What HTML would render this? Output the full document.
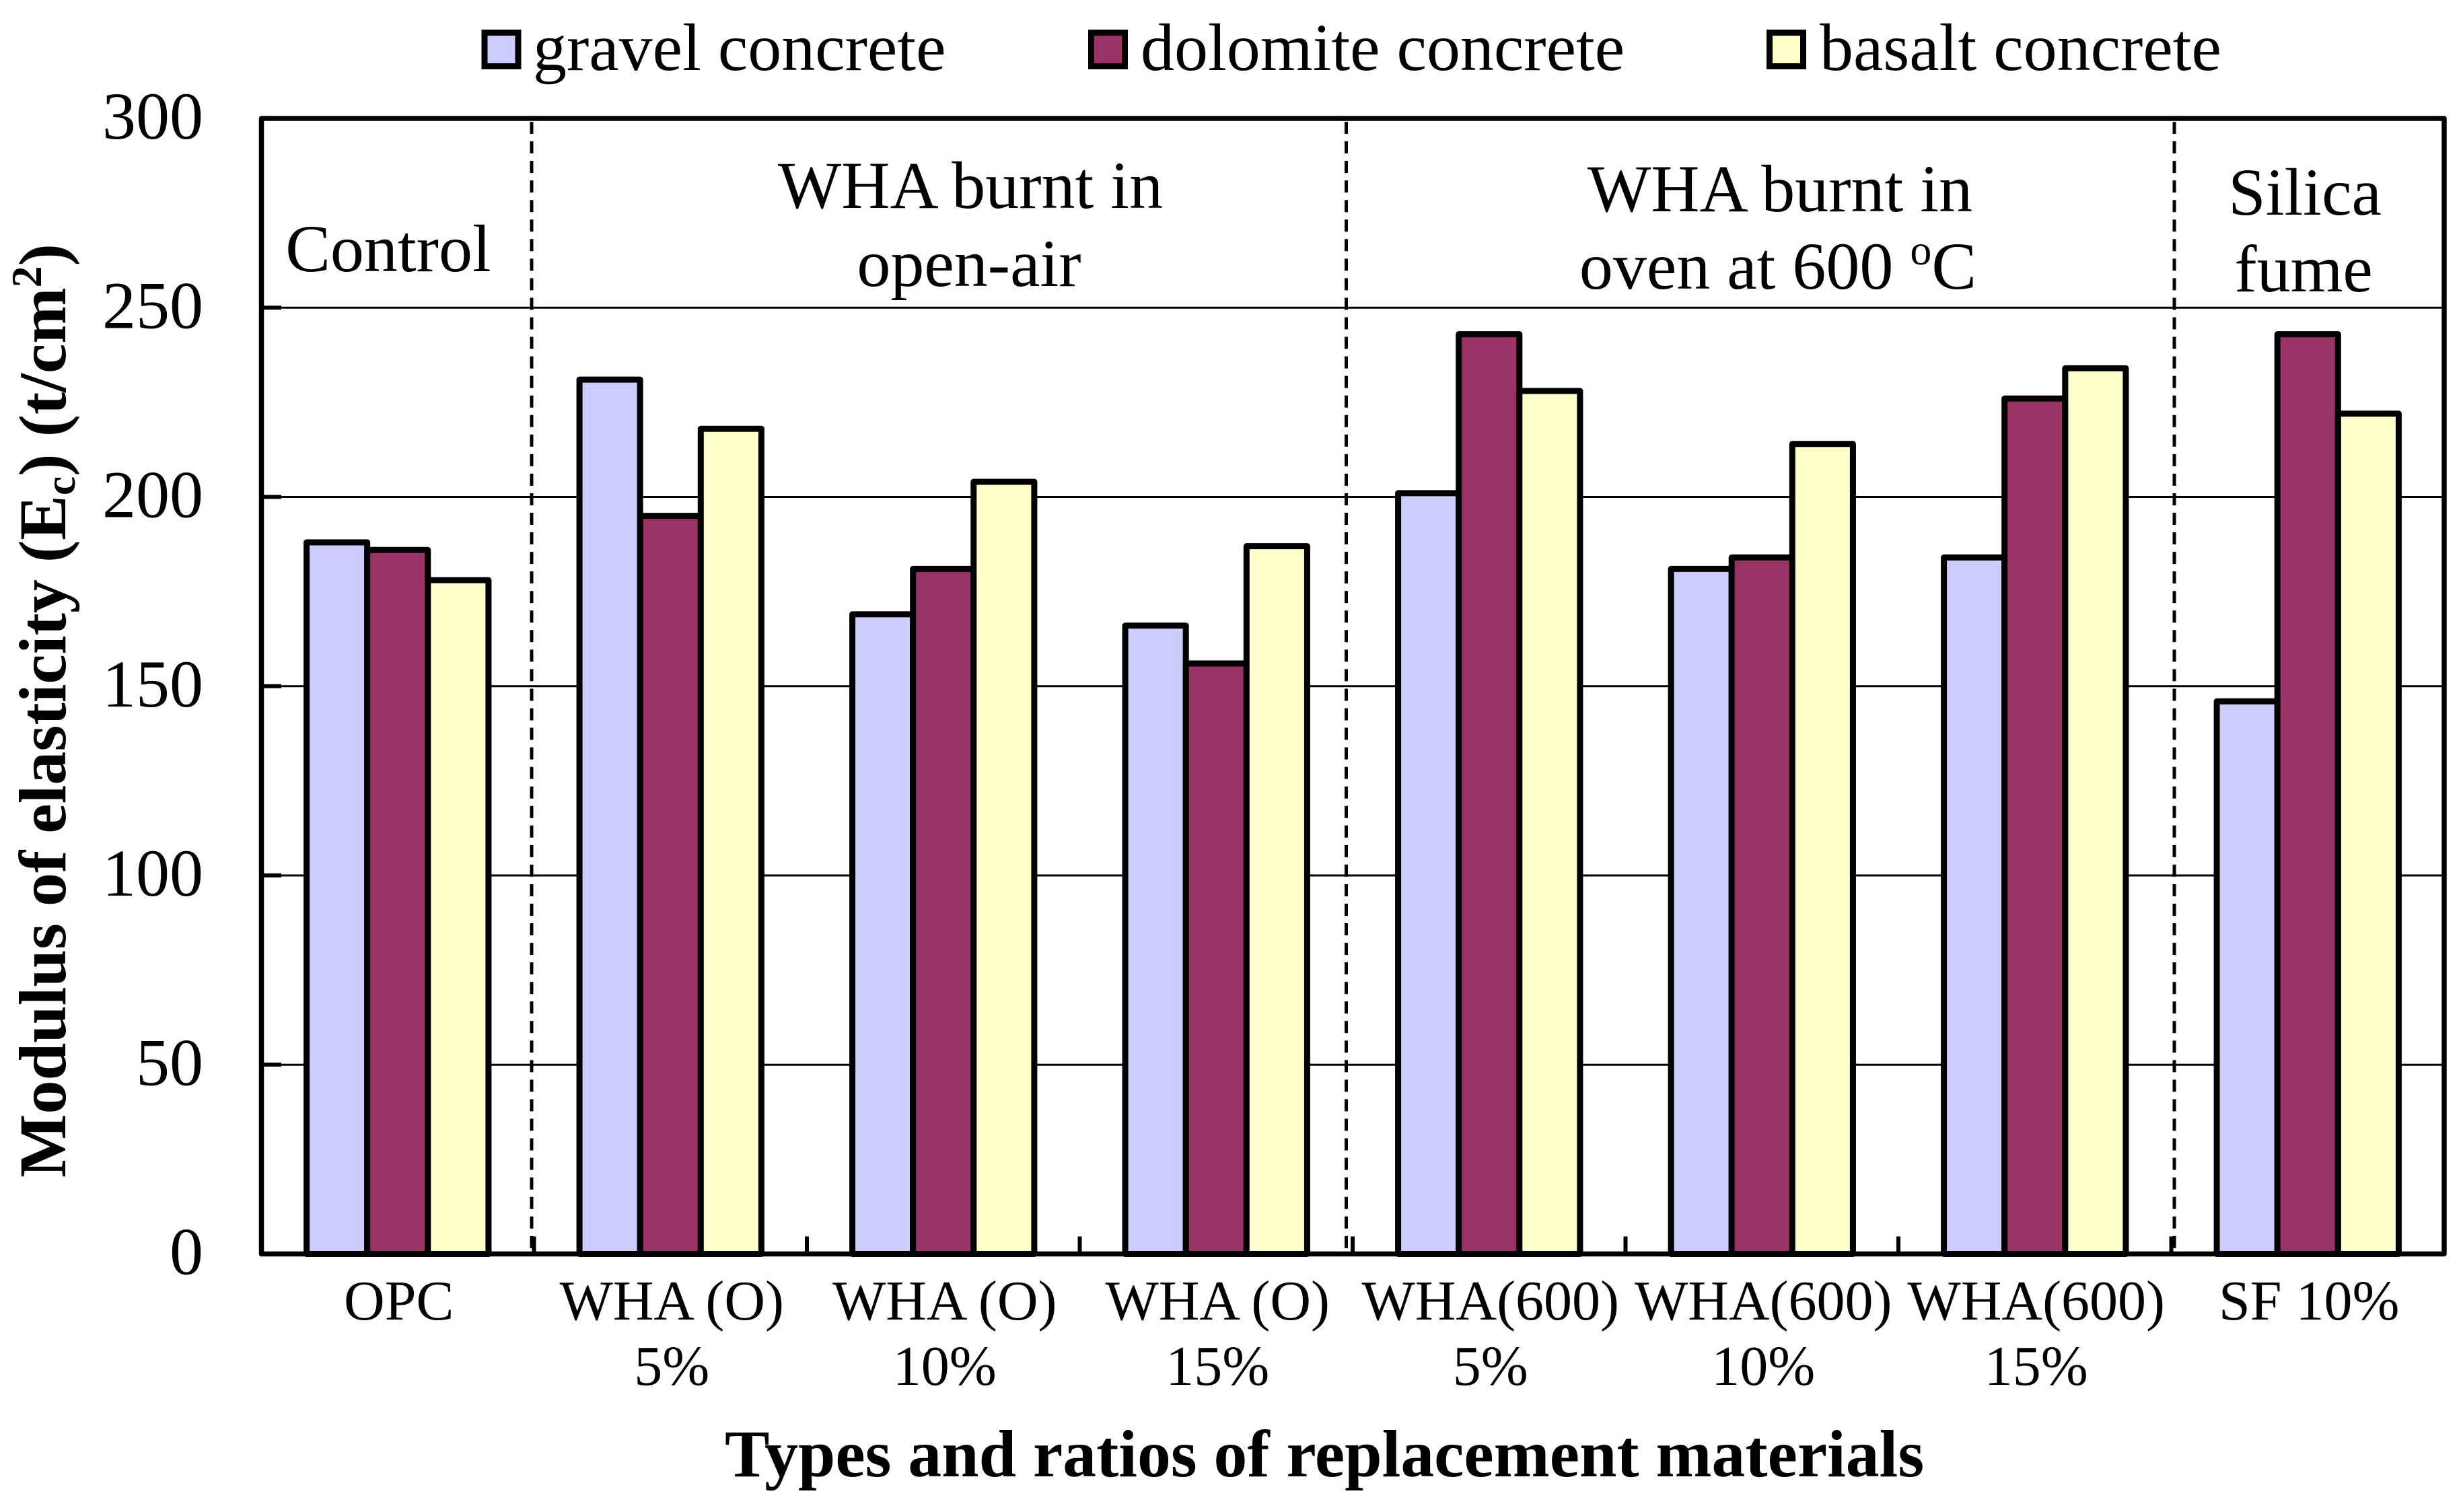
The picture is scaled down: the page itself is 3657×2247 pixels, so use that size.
<!DOCTYPE html>
<html lang="en">
<head>
<meta charset="utf-8">
<title>Modulus of elasticity chart</title>
<style>
html,body{margin:0;padding:0;background:#fff;width:3657px;height:2247px;overflow:hidden}
svg{display:block}
text{font-family:"Liberation Serif","Times New Roman",serif;fill:#000}
</style>
</head>
<body>
<svg id="chart" xmlns="http://www.w3.org/2000/svg" width="3657" height="2247" viewBox="0 0 3657 2247">
  <rect x="0" y="0" width="3657" height="2247" fill="#fff"/>
  <g id="grid"></g>
  <g id="dividers">
    <line x1="790" x2="790" y1="181" y2="1860" stroke="#000" stroke-width="5" stroke-dasharray="18 11.05"/>
    <line x1="2000.5" x2="2000.5" y1="181" y2="1860" stroke="#000" stroke-width="5" stroke-dasharray="18 11.05"/>
    <line x1="3231" x2="3231" y1="181" y2="1860" stroke="#000" stroke-width="5" stroke-dasharray="18 11.05"/>
  </g>
  <g id="ticks"></g>
  <g id="bars"></g>
  <rect x="388.5" y="176" width="3243.5" height="1687.5" fill="none" stroke="#000" stroke-width="7.5" stroke-linejoin="round"/>
  <g id="baseline-bars"></g>
  <g id="ytick-labels" font-size="100" text-anchor="end"></g>
  <g id="xtick-labels" font-size="84" text-anchor="middle"></g>

  <g font-size="100">
    <rect x="720" y="48.5" width="50" height="50" fill="#CCCCFF" stroke="#000" stroke-width="9"/>
    <text x="792" y="104">gravel concrete</text>
    <rect x="1621.5" y="48.5" width="50" height="50" fill="#993366" stroke="#000" stroke-width="9"/>
    <text x="1695" y="104">dolomite concrete</text>
    <rect x="2629.5" y="48.5" width="50" height="50" fill="#FFFFCC" stroke="#000" stroke-width="9"/>
    <text x="2704" y="104">basalt concrete</text>
  </g>

  <g font-size="100" text-anchor="middle">
    <text x="577" y="403">Control</text>
    <text x="1442" y="309">WHA burnt in</text>
    <text x="1440" y="425">open-air</text>
    <text x="2645" y="314">WHA burnt in</text>
    <text x="2642" y="429">oven at 600 <tspan font-size="64" dy="-36">o</tspan><tspan dy="36">C</tspan></text>
    <text x="3425" y="319">Silica</text>
    <text x="3423" y="433">fume</text>
  </g>

  <text transform="translate(97 1750) rotate(-90)" font-size="100" font-weight="700">Modulus of elasticity (E<tspan font-size="64" dy="14">c</tspan><tspan dy="-14">) (t/cm</tspan><tspan font-size="64" dy="-36">2</tspan><tspan dy="36">)</tspan></text>
  <text x="1077" y="2194" font-size="99.7" font-weight="700">Types and ratios of replacement materials</text>
</svg>
<script>
const categories = [
  ["OPC"],
  ["WHA (O)", "5%"],
  ["WHA (O)", "10%"],
  ["WHA (O)", "15%"],
  ["WHA(600)", "5%"],
  ["WHA(600)", "10%"],
  ["WHA(600)", "15%"],
  ["SF 10%"]
];
const gravelValues = [188, 231, 169, 166, 201, 181, 184, 146];
const dolomiteValues = [186, 195, 181, 156, 243, 184, 226, 243];
const basaltValues = [178, 218, 204, 187, 228, 214, 234, 222];
const yTickValues = [0, 50, 100, 150, 200, 250, 300];

const NS = 'http://www.w3.org/2000/svg';
const plot = { left: 388, right: 3632, bottom: 1863.5, top: 176, yMax: 300 };
const seriesList = [
  { key: 'gravel', values: gravelValues, color: '#CCCCFF' },
  { key: 'dolomite', values: dolomiteValues, color: '#993366' },
  { key: 'basalt', values: basaltValues, color: '#FFFFCC' }
];
const bandWidth = (plot.right - plot.left) / categories.length;
const barWidth = bandWidth / 4.5;

function yScale(v) {
  return plot.bottom - (v / plot.yMax) * (plot.bottom - plot.top);
}
function bandLeft(i) {
  return plot.left + i * bandWidth;
}
function bandCenter(i) {
  return bandLeft(i) + bandWidth / 2;
}
function barX(i, s) {
  return bandLeft(i) + barWidth * 0.75 + s * barWidth;
}
function make(tag, attrs, parent) {
  const el = document.createElementNS(NS, tag);
  Object.keys(attrs).forEach(function (k) { el.setAttribute(k, attrs[k]); });
  parent.appendChild(el);
  return el;
}

const gridGroup = document.getElementById('grid');
const tickGroup = document.getElementById('ticks');
const yLabelGroup = document.getElementById('ytick-labels');
const xLabelGroup = document.getElementById('xtick-labels');
const barGroup = document.getElementById('bars');
const baseGroup = document.getElementById('baseline-bars');

yTickValues.forEach(function (v) {
  const y = yScale(v);
  if (v > 0 && v < plot.yMax) {
    const grid = make('line', { x1: plot.left, x2: plot.right, y1: y, y2: y, stroke: '#000', 'stroke-width': 3 }, gridGroup);
    
    
    const tick = make('line', { x1: plot.left, x2: plot.left + 30, y1: y, y2: y, stroke: '#000', 'stroke-width': 6 }, tickGroup);
    
    
  }
  const label = make('text', { x: 302, y: y + 30 }, yLabelGroup);
  label.textContent = String(v);
  
  
});

categories.forEach(function (lines, i) {
  if (i > 0) {
    const xTick = make('line', { x1: bandLeft(i), x2: bandLeft(i), y1: plot.bottom - 26, y2: plot.bottom, stroke: '#000', 'stroke-width': 6 }, tickGroup);
    
    
  }
  lines.forEach(function (line, j) {
    const label = make('text', { x: bandCenter(i) + 2, y: 1961 + j * 97 }, xLabelGroup);
    label.textContent = line;
    
    
  });
  seriesList.forEach(function (series, s) {
    const v = series.values[i];
    const bar = make('rect', {
      x: barX(i, s),
      y: yScale(v),
      width: barWidth,
      height: plot.bottom - yScale(v),
      fill: series.color,
      stroke: '#000',
      'stroke-width': 9,
      'stroke-linejoin': 'round'
    }, barGroup);
    
    
  });
});
</script>
</body>
</html>
